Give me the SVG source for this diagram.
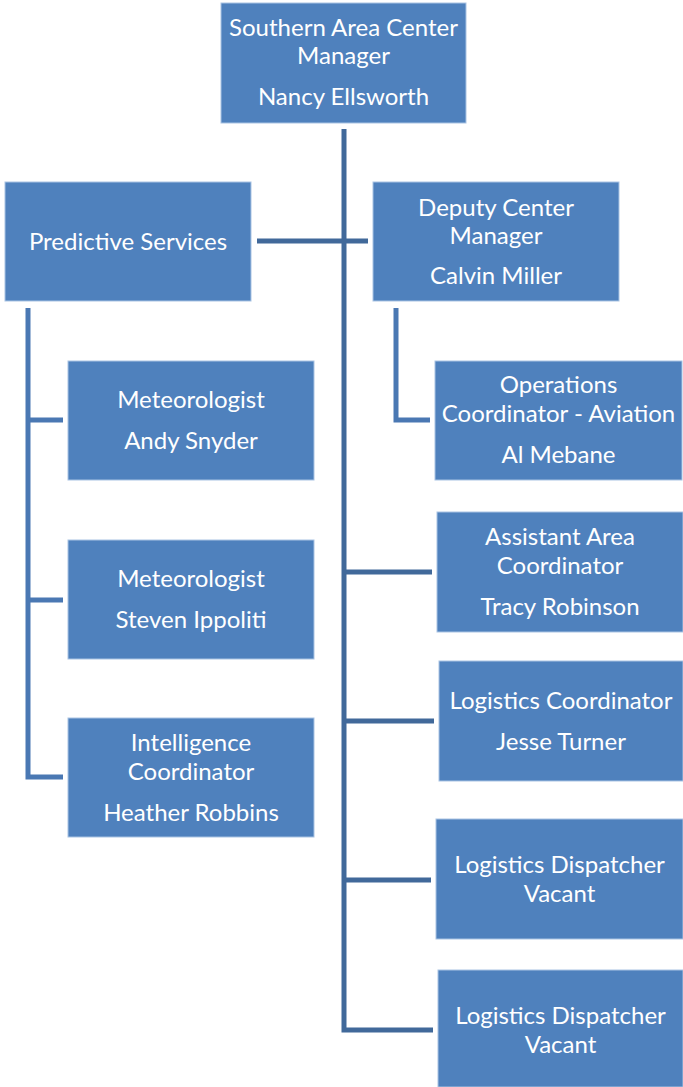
<svg xmlns="http://www.w3.org/2000/svg" width="683" height="1087" viewBox="0 0 683 1087">
<style>
.box{fill:#4F81BD;stroke:#A9C3E3;stroke-width:1}
.t{font-family:Lato,"Open Sans",sans-serif;font-size:24px;fill:#FFFFFF;text-anchor:middle}
.main{stroke:#41699A;stroke-width:5;fill:none;stroke-linejoin:miter}
.sub{stroke:#4A78B3;stroke-width:5;fill:none}
</style>
<rect width="683" height="1087" fill="#FFFFFF"/>
<g id="connectors">
<path class="main" d="M344,129 V1030 H433"/>
<path class="main" d="M257,241 H368"/>
<path class="main" d="M344,572 H432 M344,721 H434 M344,880 H431"/>
<path class="sub" d="M28,308 V777 H63 M28,420 H63 M28,600 H63"/>
<path class="sub" d="M396,308 V420 H430"/>
</g>
<g id="n-manager"><rect class="box" x="221" y="3" width="245" height="120"/>
<text class="t" x="343.5" y="36">Southern Area Center</text><text class="t" x="343.5" y="64">Manager</text><text class="t" x="343.5" y="105">Nancy Ellsworth</text></g>
<g id="n-predictive"><rect class="box" x="5" y="182" width="246" height="119"/>
<text class="t" x="128" y="250">Predictive Services</text></g>
<g id="n-deputy"><rect class="box" x="373" y="182" width="246" height="119"/>
<text class="t" x="496" y="216">Deputy Center</text><text class="t" x="496" y="244">Manager</text><text class="t" x="496" y="284">Calvin Miller</text></g>
<g id="n-met1"><rect class="box" x="68" y="361" width="246" height="119"/>
<text class="t" x="191" y="408">Meteorologist</text><text class="t" x="191" y="449">Andy Snyder</text></g>
<g id="n-met2"><rect class="box" x="68" y="540" width="246" height="119"/>
<text class="t" x="191" y="587">Meteorologist</text><text class="t" x="191" y="628">Steven Ippoliti</text></g>
<g id="n-intel"><rect class="box" x="68" y="718" width="246" height="119"/>
<text class="t" x="191" y="751">Intelligence</text><text class="t" x="191" y="780">Coordinator</text><text class="t" x="191" y="821">Heather Robbins</text></g>
<g id="n-ops"><rect class="box" x="435" y="361" width="247" height="119"/>
<text class="t" x="558.5" y="393">Operations</text><text class="t" x="558.5" y="422">Coordinator - Aviation</text><text class="t" x="558.5" y="463">Al Mebane</text></g>
<g id="n-assistant"><rect class="box" x="437" y="512" width="246" height="120"/>
<text class="t" x="560" y="545">Assistant Area</text><text class="t" x="560" y="574">Coordinator</text><text class="t" x="560" y="615">Tracy Robinson</text></g>
<g id="n-logcoord"><rect class="box" x="439" y="661" width="244" height="120"/>
<text class="t" x="561" y="709">Logistics Coordinator</text><text class="t" x="561" y="750">Jesse Turner</text></g>
<g id="n-logdisp1"><rect class="box" x="436" y="819" width="247" height="120"/>
<text class="t" x="559.5" y="873">Logistics Dispatcher</text><text class="t" x="559.5" y="902">Vacant</text></g>
<g id="n-logdisp2"><rect class="box" x="438" y="970" width="245" height="117"/>
<text class="t" x="560.5" y="1024">Logistics Dispatcher</text><text class="t" x="560.5" y="1053">Vacant</text></g>
</svg>
